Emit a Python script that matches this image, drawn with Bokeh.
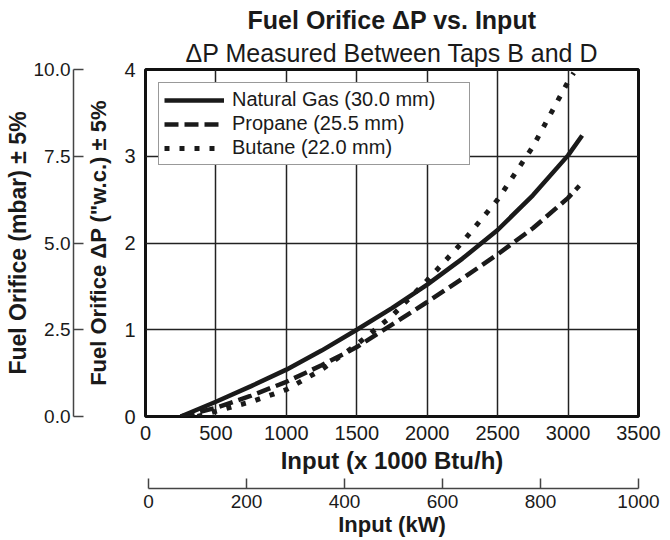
from bokeh.plotting import figure
from bokeh.models import (LinearAxis, Range1d, FixedTicker, Title, Legend, LegendItem,
                          NumeralTickFormatter)
from bokeh.embed import file_html
from bokeh.resources import INLINE

FONT = "Liberation Sans"
INK = "#1a1a1a"
AX = "#444444"

# ---------------- data ----------------
btu_ticks = [0, 500, 1000, 1500, 2000, 2500, 3000, 3500]
wc_ticks = [0, 1, 2, 3, 4]
mbar_ticks = [0.0, 2.5, 5.0, 7.5, 10.0]
kw_ticks = [0, 200, 400, 600, 800, 1000]

series_names = ["Natural Gas (30.0 mm)", "Propane (25.5 mm)", "Butane (22.0 mm)"]

natgas_input = [250, 500, 750, 1000, 1250, 1500, 1750, 2000, 2250, 2500, 2750, 3000, 3100]
natgas_dp = [0.0, 0.17, 0.35, 0.54, 0.76, 1.00, 1.25, 1.52, 1.82, 2.15, 2.55, 3.01, 3.24]

propane_input = [250, 500, 750, 1000, 1250, 1500, 1750, 2000, 2250, 2500, 2750, 3000, 3080]
propane_dp = [0.0, 0.10, 0.24, 0.40, 0.59, 0.80, 1.06, 1.32, 1.59, 1.87, 2.17, 2.52, 2.66]

butane_input = [370, 500, 750, 1000, 1250, 1500, 1750, 2000, 2250, 2500, 2750, 3000, 3040]
butane_dp = [0.0, 0.06, 0.17, 0.31, 0.54, 0.83, 1.16, 1.57, 2.01, 2.50, 3.11, 3.86, 3.96]

# ---------------- figure ----------------
p = figure(width=670, height=540, output_backend="svg", toolbar_location=None, title=None,
           x_range=Range1d(0, 3500), y_range=Range1d(0, 4),
           min_border_left=145, min_border_right=32, min_border_top=69, min_border_bottom=124)
p.background_fill_color = "white"
p.border_fill_color = "white"
p.outline_line_color = "#111111"
p.outline_line_width = 3

p.extra_y_ranges = {"mbar": Range1d(0, 10)}
p.extra_x_ranges = {"kw": Range1d(-6.1, 1000)}


def style_axis(ax, label_size, title_size):
    ax.major_label_text_font = FONT
    ax.major_label_text_font_size = label_size
    ax.major_label_text_color = INK
    ax.axis_label_text_font = FONT
    ax.axis_label_text_font_size = title_size
    ax.axis_label_text_font_style = "bold"
    ax.axis_label_text_color = INK
    ax.minor_tick_line_color = None
    ax.minor_tick_out = 0
    ax.minor_tick_in = 0


def spacer(gap, **kw):
    return LinearAxis(ticker=FixedTicker(ticks=[]), axis_line_color=None,
                      major_tick_line_color=None, minor_tick_line_color=None,
                      major_tick_out=0, major_tick_in=0, minor_tick_out=0, minor_tick_in=0,
                      axis_label=" ", axis_label_standoff=gap,
                      axis_label_text_font_size="1px", major_label_text_font_size="1px", **kw)


# main x axis (Btu/h)
xa = p.xaxis[0]
xa.ticker = FixedTicker(ticks=btu_ticks)
style_axis(xa, "20px", "24px")
xa.axis_line_color = None
xa.major_tick_line_color = None
xa.major_tick_out = 0
xa.major_tick_in = 0
xa.major_label_standoff = 9
xa.axis_label = "Input (x 1000 Btu/h)"
xa.axis_label_standoff = 4

# main y axis ("w.c.)
ya = p.yaxis[0]
ya.ticker = FixedTicker(ticks=wc_ticks)
style_axis(ya, "20px", "22px")
ya.axis_line_color = None
ya.major_tick_line_color = None
ya.major_tick_out = 0
ya.major_tick_in = 0
ya.major_label_standoff = 10
ya.axis_label = "Fuel Orifice \u0394P (\"w.c.) \u00b1 5%"
ya.axis_label_standoff = 10

# secondary left axis (mbar)
p.add_layout(spacer(6), "left")
ma = LinearAxis(y_range_name="mbar", ticker=FixedTicker(ticks=mbar_ticks),
                formatter=NumeralTickFormatter(format="0.0"),
                axis_label="Fuel Orifice (mbar) \u00b1 5%")
style_axis(ma, "19px", "23px")
ma.axis_line_color = AX
ma.axis_line_width = 1.5
ma.major_tick_line_color = AX
ma.major_tick_line_width = 1.5
ma.major_tick_in = 10
ma.major_tick_out = 0
ma.major_label_standoff = 3
ma.axis_label_standoff = 0
p.add_layout(ma, "left")

# secondary bottom axis (kW)
p.add_layout(spacer(8), "below")
ka = LinearAxis(x_range_name="kw", ticker=FixedTicker(ticks=kw_ticks), bounds=(0, 1000),
                axis_label="Input (kW)")
style_axis(ka, "19px", "22px")
ka.axis_line_color = AX
ka.axis_line_width = 1.5
ka.major_tick_line_color = AX
ka.major_tick_line_width = 1.5
ka.major_tick_in = 10
ka.major_tick_out = 0
ka.major_label_standoff = 6
ka.axis_label_standoff = 1
p.add_layout(ka, "below")

# grid
p.grid.grid_line_color = "#222222"
p.grid.grid_line_width = 1.5
p.grid.grid_line_alpha = 1.0

# titles (subtitle first = nearer the frame)
p.add_layout(Title(text="\u0394P Measured Between Taps B and D", align="center",
                   text_font=FONT, text_font_size="25px", text_font_style="normal",
                   text_color=INK, standoff=6), "above")
p.add_layout(Title(text="Fuel Orifice \u0394P vs. Input", align="center",
                   text_font=FONT, text_font_size="25px", text_font_style="bold",
                   text_color=INK, standoff=0), "above")

# curves
r_ng = p.line(natgas_input, natgas_dp, line_color=INK, line_width=4.5)
r_pr = p.line(propane_input, propane_dp, line_color=INK, line_width=4.5, line_dash="14 6")
r_bu = p.line(butane_input, butane_dp, line_color=INK, line_width=5, line_dash="5 10")

legend = Legend(items=[LegendItem(label=series_names[0], renderers=[r_ng]),
                       LegendItem(label=series_names[1], renderers=[r_pr]),
                       LegendItem(label=series_names[2], renderers=[r_bu])],
                location="top_left", margin=13, padding=5, spacing=1,
                glyph_width=60, glyph_height=20, label_standoff=8, label_width=232,
                label_text_font=FONT, label_text_font_size="20px", label_text_color=INK,
                border_line_color="#333333", border_line_width=1.5,
                background_fill_color="white", background_fill_alpha=1.0)
p.add_layout(legend)

open("out.html", "w").write(file_html(p, INLINE))
